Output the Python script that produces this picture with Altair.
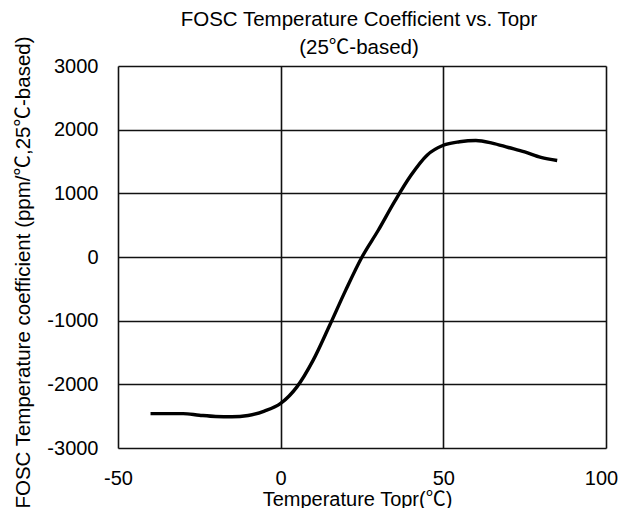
import altair as alt
import pandas as pd

temps = [-40, -35, -30, -25, -20, -15, -10, -5, 0, 5, 10, 15, 20, 25, 30, 35, 40, 45, 50, 55, 60, 65, 70, 75, 80, 85]
coef = [-2460, -2460, -2460, -2485, -2505, -2510, -2490, -2420, -2300, -2040, -1620, -1080, -520, 0, 420, 870, 1280, 1600, 1755, 1810, 1830, 1790, 1720, 1650, 1565, 1515]

x_ticks = [-50, 0, 50, 100]
y_ticks = [-3000, -2000, -1000, 0, 1000, 2000, 3000]

title_lines = ["FOSC Temperature Coefficient vs. Topr", "(25℃-based)"]
x_title = "Temperature Topr(℃)"
y_title = "FOSC Temperature coefficient (ppm/℃,25℃-based)"

FONT = "Liberation Sans, Arial, Noto Sans CJK JP, sans-serif"
FS = 20

df = pd.DataFrame({"t": temps, "c": coef})

chart = alt.Chart(df).mark_line(color="black", strokeWidth=3.4, interpolate="monotone").encode(
    x=alt.X("t:Q", scale=alt.Scale(domain=[-50, 100], nice=False, zero=False),
            axis=alt.Axis(values=x_ticks, title=x_title, grid=True, ticks=False, tickSize=0,
                          labelExpr="'' + datum.value", labelFlush=False,
                          labelOffset={"condition": {"test": "datum.value == 100", "value": -5}, "value": 0},
                          labelPadding=20, labelFontSize=FS, labelColor="black", labelFont=FONT,
                          titleFont=FONT, titleFontSize=FS, titleFontWeight="normal", titleColor="black",
                          titleX=239, titleY=57, titleBaseline="alphabetic", titleAlign="center",
                          domain=False, gridColor="#111", gridWidth=1.6, gridOpacity=1)),
    y=alt.Y("c:Q", scale=alt.Scale(domain=[-3000, 3000], nice=False),
            axis=alt.Axis(values=y_ticks, title=y_title, grid=True, ticks=False, tickSize=0,
                          labelExpr="'' + datum.value", labelFlush=False,
                          labelPadding=20, labelFontSize=FS, labelColor="black", labelFont=FONT,
                          titleFont=FONT, titleFontSize=20.5, titleFontWeight="normal", titleColor="black",
                          titleX=-95, titleY=206, titleAngle=-90, titleBaseline="middle", titleAlign="center",
                          domain=False, gridColor="#111", gridWidth=1.6, gridOpacity=1)),
).properties(
    width=488,
    height=382,
    title=alt.Title(title_lines, fontSize=20.5, font=FONT, fontWeight="normal", color="black",
                    anchor="middle", dx=-3, dy=25, offset=2, lineHeight=28),
    autosize=alt.AutoSizeParams(type="none"),
    padding={"left": 110, "top": 58, "right": 12, "bottom": 60},
).configure_view(stroke="black", strokeWidth=2.6).configure(background="white")

chart.save("out.html", embed_options={"renderer": "svg", "actions": False})
